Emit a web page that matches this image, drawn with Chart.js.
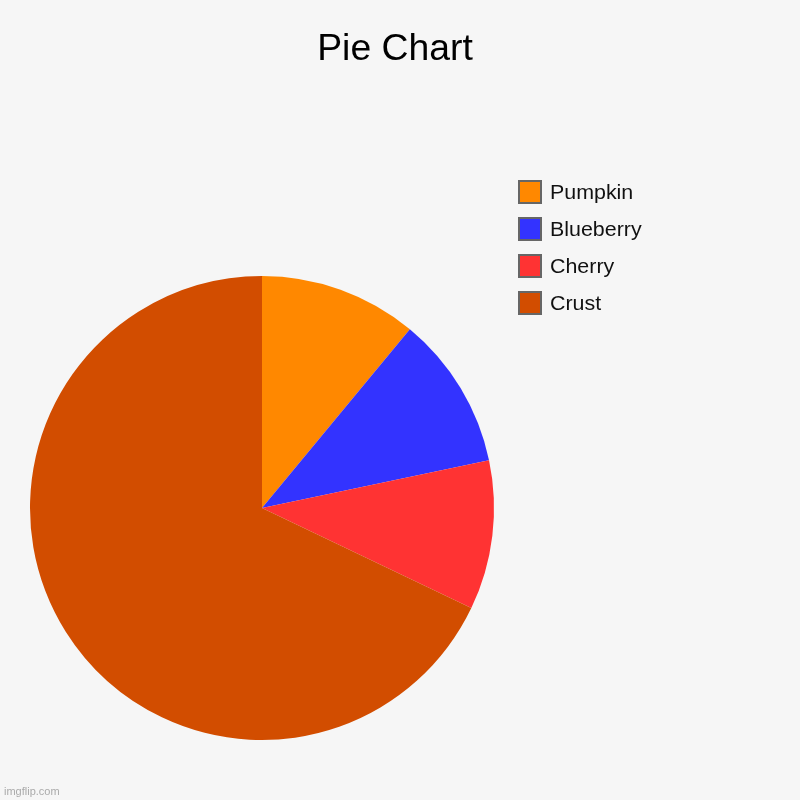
<!DOCTYPE html>
<html>
<head>
<meta charset="utf-8">
<script src="https://cdn.jsdelivr.net/npm/chart.js@4"></script>
<style>
html,body{margin:0;padding:0;background:#f6f6f6;}
canvas{display:block;}
</style>
</head>
<body>
<canvas id="c" width="800" height="800"></canvas>
<script>
const labels = ["Pumpkin", "Blueberry", "Cherry", "Crust"];
const values = [11, 10.7, 10.4, 67.9];
const colors = ["#ff8800", "#3333ff", "#ff3333", "#d24d00"];
const titleText = "Pie Chart";
const watermark = "imgflip.com";

function wideText(ctx, text, x, y, sx) {
  ctx.save();
  ctx.translate(x, y);
  ctx.scale(sx, 1);
  ctx.fillText(text, 0, 0);
  ctx.restore();
}

const overlay = {
  id: 'overlay',
  beforeDraw(chart) {
    const ctx = chart.ctx;
    ctx.save();
    ctx.fillStyle = '#f6f6f6';
    ctx.fillRect(0, 0, chart.width, chart.height);
    ctx.restore();
  },
  afterDraw(chart) {
    const ctx = chart.ctx;
    ctx.save();
    // title
    ctx.fillStyle = '#000';
    ctx.font = '36px "Liberation Sans", Arial, sans-serif';
    ctx.textAlign = 'left';
    ctx.textBaseline = 'alphabetic';
    const tsx = 1.037;
    const tw = ctx.measureText(titleText).width * tsx;
    wideText(ctx, titleText, 395 - tw / 2, 59.5, tsx);
    // legend
    ctx.font = '20px "Liberation Sans", Arial, sans-serif';
    const lbls = chart.data.labels;
    const bg = chart.data.datasets[0].backgroundColor;
    lbls.forEach((l, i) => {
      const y = 181 + i * 37;
      ctx.fillStyle = bg[i];
      ctx.fillRect(519, y, 22, 22);
      ctx.strokeStyle = '#666666';
      ctx.lineWidth = 2;
      ctx.strokeRect(519, y, 22, 22);
      ctx.fillStyle = '#111';
      wideText(ctx, l, 550, y + 18, 1.07);
    });
    // watermark
    ctx.font = '11px "Liberation Sans", Arial, sans-serif';
    ctx.fillStyle = '#aaaaaa';
    ctx.fillText(watermark, 4, 795);
    ctx.restore();
  }
};

new Chart(document.getElementById('c'), {
  type: 'pie',
  data: {
    labels: labels,
    datasets: [{
      data: values,
      backgroundColor: colors,
      borderWidth: 0
    }]
  },
  options: {
    responsive: false,
    animation: false,
    devicePixelRatio: 1,
    layout: { padding: { left: 30, right: 306, top: 276, bottom: 60 } },
    plugins: {
      legend: { display: false },
      title: { display: false },
      tooltip: { enabled: false }
    }
  },
  plugins: [overlay]
});
</script>
</body>
</html>
